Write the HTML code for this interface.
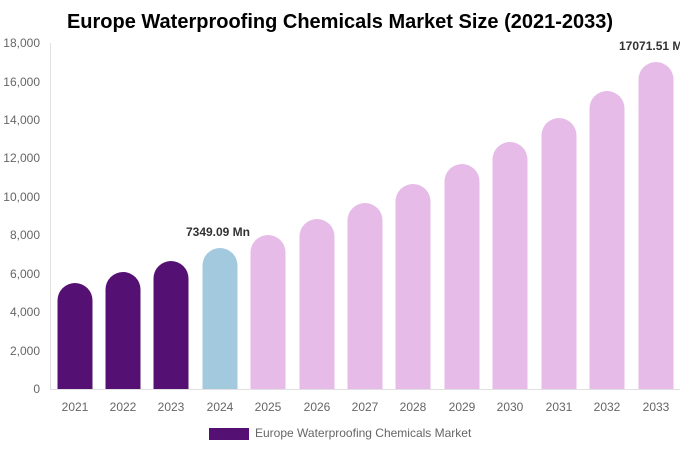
<!DOCTYPE html>
<html><head><meta charset="utf-8"><style>
body{margin:0;background:#fff;}
svg{display:block;font-family:"Liberation Sans",sans-serif;}
</style></head><body>
<svg width="680" height="450" viewBox="0 0 680 450">
<text x="340" y="28" text-anchor="middle" font-size="20" font-weight="bold" fill="#000">Europe Waterproofing Chemicals Market Size (2021-2033)</text>
<line x1="50.5" y1="43" x2="50.5" y2="389" stroke="#e0e0e0"/>
<line x1="50" y1="389.5" x2="680" y2="389.5" stroke="#e0e0e0"/>
<g font-size="12" fill="#666" text-anchor="end">
<text x="40" y="393">0</text>
<text x="40" y="355">2,000</text>
<text x="40" y="316">4,000</text>
<text x="40" y="278">6,000</text>
<text x="40" y="239">8,000</text>
<text x="40" y="201">10,000</text>
<text x="40" y="162">12,000</text>
<text x="40" y="124">14,000</text>
<text x="40" y="86">16,000</text>
<text x="40" y="47">18,000</text>
</g>
<g id="bars"></g>
<g font-size="12" fill="#666" text-anchor="middle" id="xl"></g>
<text x="218" y="236" text-anchor="middle" font-size="12" font-weight="bold" fill="#333">7349.09 Mn</text>
<text x="619" y="50" font-size="12" font-weight="bold" fill="#333">17071.51 Mn</text>
<rect x="209" y="428" width="40" height="12" fill="#541173"/>
<text x="255" y="437" font-size="12" fill="#666">Europe Waterproofing Chemicals Market</text>
</svg>
<script>
var c=[75,123,171,220,268,317,365,413,462,510,559,607,656];
var t=[283,272,261,248,235,219,203,184,164,142,118,91,62];
var g=document.getElementById('bars'),x=document.getElementById('xl'),s='',l='';
for(var i=0;i<13;i++){
 var col=i<3?'#541173':(i==3?'#a3c9de':'#e6bbe8');
 var L=c[i]-17.5,R=c[i]+17.5,T=t[i],r=17.5;
 s+='<path d="M'+L+' 389 L'+L+' '+(T+r)+' A'+r+' '+r+' 0 0 1 '+R+' '+(T+r)+' L'+R+' 389 Z" fill="'+col+'"/>';
 l+='<text x="'+c[i]+'" y="411">'+(2021+i)+'</text>';
}
g.innerHTML=s;x.innerHTML=l;
</script>
</body></html>
